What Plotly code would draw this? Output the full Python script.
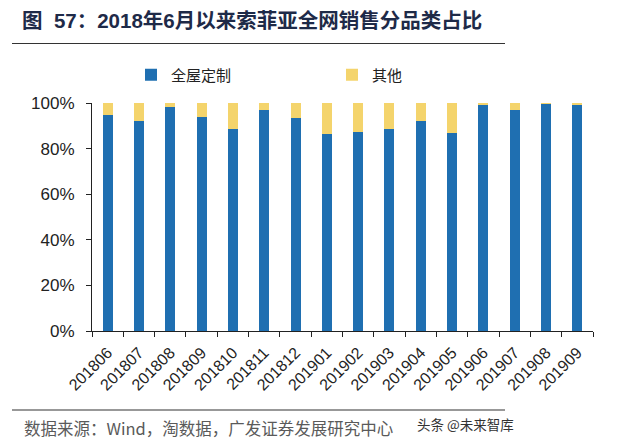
import plotly.graph_objects as go

months = ['201806', '201807', '201808', '201809', '201810', '201811', '201812', '201901',
          '201902', '201903', '201904', '201905', '201906', '201907', '201908', '201909']
whole_house = [0.947, 0.921, 0.984, 0.937, 0.885, 0.968, 0.934, 0.864,
               0.873, 0.887, 0.920, 0.867, 0.994, 0.968, 0.996, 0.990]
others = [round(1 - v, 3) for v in whole_house]

BLUE = '#1f6fb1'
YELLOW = '#f4d46c'

# plot area in pixels: x 92..593, y 103..331
L, R, T, B = 92, 593, 103, 331
W, H = 619, 444
def px(x):
    return (x - L) / (R - L)
def py(y):
    return (B - y) / (B - T)

fig = go.Figure()
fig.add_trace(go.Bar(x=months, y=whole_house, name='全屋定制', marker_color=BLUE,
                     marker_line_width=0, legend='legend'))
fig.add_trace(go.Bar(x=months, y=others, name='其他', marker_color=YELLOW,
                     marker_line_width=0, legend='legend2'))

leg_font = dict(family='Noto Sans CJK SC', size=15, color='#222')
fig.update_layout(
    width=W, height=H,
    barmode='stack', bargap=0.68,
    plot_bgcolor='white', paper_bgcolor='white',
    margin=dict(l=L, r=W - R, t=T, b=H - B, autoexpand=False),
    font=dict(family='Liberation Sans, Noto Sans CJK SC', size=15, color='#222'),
    title=dict(text='<b>图  57：2018年6月以来索菲亚全网销售分品类占比</b>',
               xref='container', x=22 / W, xanchor='left',
               yref='container', y=1 - 21 / H, yanchor='middle',
               font=dict(family='Liberation Sans, Noto Sans CJK SC', size=20.5, color='#1e2a48')),
    legend=dict(x=px(131), xanchor='left', y=py(75), yanchor='middle',
                itemwidth=30, font=leg_font, bgcolor='rgba(0,0,0,0)'),
    legend2=dict(x=px(332), xanchor='left', y=py(75), yanchor='middle',
                 itemwidth=30, font=leg_font, bgcolor='rgba(0,0,0,0)'),
    showlegend=True,
)

fig.update_xaxes(type='category', tickson='boundaries', ticks='outside', ticklen=5,
                 tickcolor='#222', showline=True, linecolor='#222', linewidth=1,
                 tickangle=-45, ticklabelstandoff=5,
                 tickfont=dict(size=16, family='Liberation Sans'),
                 showgrid=False, automargin=False)
fig.update_yaxes(range=[0, 1], dtick=0.2, tickformat='.0%', ticks='outside', ticklen=5,
                 tickcolor='#222', showline=True, linecolor='#222', linewidth=1,
                 showgrid=False, zeroline=False, automargin=False, ticklabelstandoff=8,
                 tickfont=dict(size=17, family='Liberation Sans'))

# rules under the title and above the source
for yy in (43.5, 410):
    fig.add_shape(type='line', xref='paper', yref='paper',
                  x0=px(12), x1=px(505), y0=py(yy), y1=py(yy),
                  line=dict(color='#333', width=1.2))

fig.add_annotation(text='数据来源：Wind，淘数据，广发证券发展研究中心',
                   xref='paper', yref='paper', x=px(22), y=py(428),
                   xanchor='left', yanchor='middle', showarrow=False,
                   font=dict(family='Noto Sans CJK SC', size=16.5, color='#5a5a5a'))
fig.add_annotation(text='头条 @未来智库',
                   xref='paper', yref='paper', x=px(415), y=py(424),
                   xanchor='left', yanchor='middle', showarrow=False,
                   font=dict(family='Noto Sans CJK SC', size=13.5, color='#333'))

# page body has a default 8px margin; drop it so the figure sits at 0,0
fig.write_html('out.html', config={'displayModeBar': False},
               post_script="document.body.style.margin='0';")
